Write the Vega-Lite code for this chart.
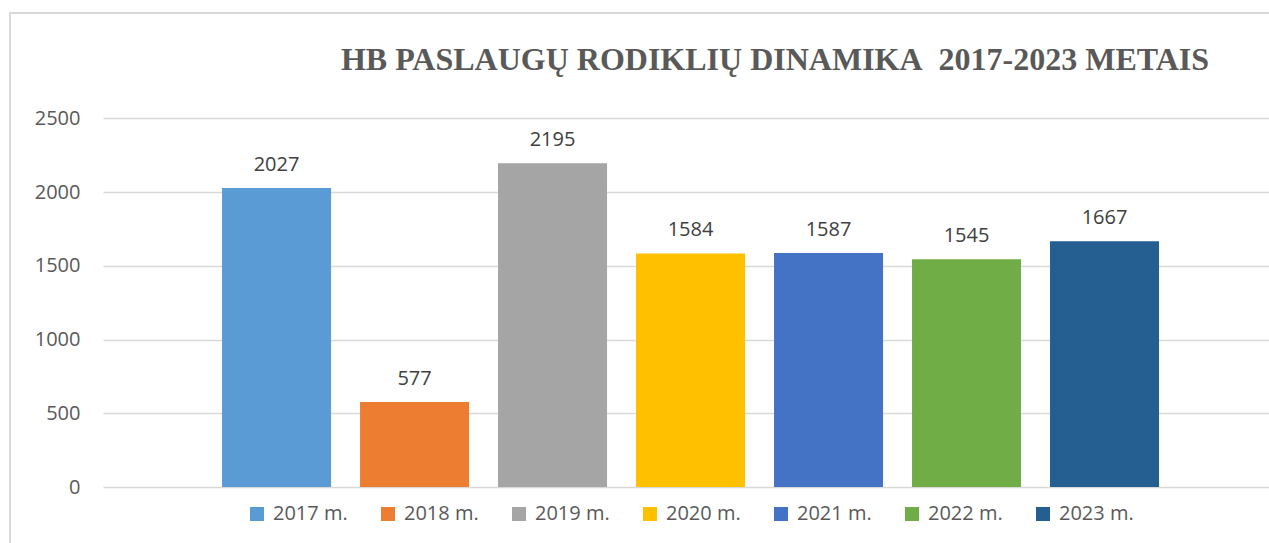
{
  "$schema": "https://vega.github.io/schema/vega-lite/v6.json",
  "autosize": "none",
  "width": 1270,
  "height": 540,
  "padding": {"left": 10, "top": 13, "right": 0, "bottom": 0},
  "background": "white",
  "config": {
    "view": {"stroke": "#d9d9d9", "strokeWidth": 2},
    "font": "Open Sans"
  },
  "title": {
    "text": "HB PASLAUGŲ RODIKLIŲ DINAMIKA\u00a0 2017-2023 METAIS",
    "font": "Liberation Serif",
    "fontSize": 32,
    "fontWeight": "bold",
    "color": "#595959",
    "anchor": "middle",
    "dx": 130,
    "offset": -89,
    "baseline": "alphabetic"
  },
  "data": {
    "values": [
      {"metai": "2017 m.", "kiekis": 2027},
      {"metai": "2018 m.", "kiekis": 577},
      {"metai": "2019 m.", "kiekis": 2195},
      {"metai": "2020 m.", "kiekis": 1584},
      {"metai": "2021 m.", "kiekis": 1587},
      {"metai": "2022 m.", "kiekis": 1545},
      {"metai": "2023 m.", "kiekis": 1667}
    ]
  },
  "encoding": {
    "x": {
      "field": "metai",
      "type": "nominal",
      "sort": null,
      "axis": null,
      "scale": {"range": [93, 1270], "paddingInner": 0.21, "paddingOuter": 0.8696, "align": 0.496}
    },
    "y": {
      "field": "kiekis",
      "type": "quantitative",
      "scale": {"domain": [0, 2500], "range": [474, 105.3], "nice": false},
      "axis": {
        "title": null,
        "values": [0, 500, 1000, 1500, 2000, 2500],
        "format": "d",
        "grid": true,
        "gridColor": "#d9d9d9",
        "gridWidth": 1.5,
        "domain": false,
        "ticks": false,
        "labelFont": "Open Sans",
        "labelFontSize": 20,
        "labelColor": "#595959",
        "labelPadding": 0,
        "offset": -70
      }
    }
  },
  "layer": [
    {
      "mark": {"type": "bar"},
      "encoding": {
        "color": {
          "field": "metai",
          "type": "nominal",
          "scale": {
            "domain": ["2017 m.", "2018 m.", "2019 m.", "2020 m.", "2021 m.", "2022 m.", "2023 m."],
            "range": ["#5B9BD5", "#ED7D31", "#A5A5A5", "#FFC000", "#4472C4", "#70AD47", "#255E91"]
          },
          "legend": {
            "orient": "none",
            "legendX": 237,
            "legendY": 491,
            "direction": "horizontal",
            "columns": 7,
            "title": null,
            "padding": 0,
            "symbolType": "square",
            "symbolSize": 196,
            "symbolStrokeWidth": 0,
            "symbolOpacity": 1,
            "labelFont": "Open Sans",
            "labelFontSize": 20,
            "labelColor": "#595959",
            "labelOffset": 6,
            "columnPadding": 30
          }
        }
      }
    },
    {
      "mark": {
        "type": "text",
        "dy": -17,
        "baseline": "alphabetic",
        "font": "Open Sans",
        "fontSize": 20,
        "color": "#404040"
      },
      "encoding": {
        "text": {"field": "kiekis", "type": "quantitative"}
      }
    }
  ]
}
